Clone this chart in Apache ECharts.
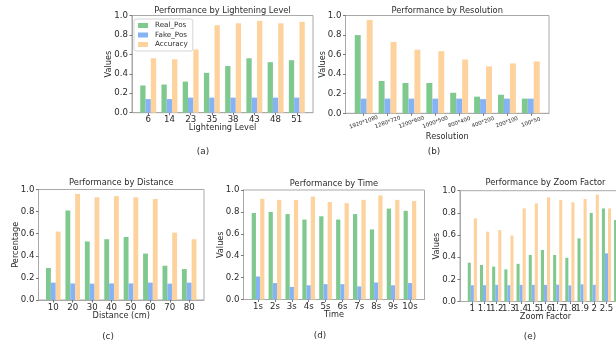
<!DOCTYPE html>
<html>
<head>
<meta charset="utf-8">
<script src="https://cdn.jsdelivr.net/npm/echarts@6/dist/echarts.min.js"></script>
<style>
  html, body { margin: 0; padding: 0; background: #fff; }
  #chart { width: 616px; height: 347px; }
</style>
</head>
<body>
<div id="chart"></div>
<script>
// ---- data ----
const seriesNames = ['Real_Pos', 'Fake_Pos', 'Accuracy'];
const yTickStep = 0.2;

const lightLevels = ['6', '14', '23', '35', '38', '43', '48', '51'];
const lightReal = [0.28, 0.29, 0.32, 0.41, 0.48, 0.56, 0.52, 0.54];
const lightFake = [0.14, 0.14, 0.155, 0.155, 0.155, 0.155, 0.155, 0.155];
const lightAcc = [0.56, 0.55, 0.65, 0.90, 0.92, 0.945, 0.92, 0.935];

const resLabels = ['1920*1080', '1280*720', '1200*600', '1000*500', '800*400', '400*200', '200*100', '100*50'];
const resReal = [0.80, 0.33, 0.31, 0.31, 0.21, 0.17, 0.19, 0.15];
const resFake = [0.15, 0.15, 0.15, 0.15, 0.15, 0.145, 0.15, 0.15];
const resAcc = [0.955, 0.73, 0.65, 0.635, 0.55, 0.48, 0.51, 0.53];

const distLabels = ['10', '20', '30', '40', '50', '60', '70', '80'];
const distReal = [0.29, 0.81, 0.53, 0.55, 0.57, 0.42, 0.31, 0.28];
const distFake = [0.157, 0.15, 0.148, 0.15, 0.15, 0.157, 0.148, 0.157];
const distAcc = [0.62, 0.96, 0.93, 0.94, 0.93, 0.915, 0.61, 0.55];

const timeLabels = ['1s', '2s', '3s', '4s', '5s', '6s', '7s', '8s', '9s', '10s'];
const timeReal = [0.79, 0.80, 0.78, 0.73, 0.76, 0.73, 0.78, 0.64, 0.83, 0.81];
const timeFake = [0.21, 0.15, 0.115, 0.13, 0.14, 0.14, 0.12, 0.155, 0.13, 0.15];
const timeAcc = [0.92, 0.91, 0.91, 0.94, 0.89, 0.88, 0.91, 0.95, 0.91, 0.90];

const zoomLabels = ['1', '1.1', '1.2', '1.3', '1.4', '1.5', '1.6', '1.7', '1.8', '1.9', '2', '2.5', '3'];
const zoomReal = [0.35, 0.33, 0.315, 0.29, 0.34, 0.42, 0.465, 0.42, 0.395, 0.57, 0.80, 0.84, 0.735];
const zoomFake = [0.147, 0.147, 0.15, 0.147, 0.15, 0.15, 0.15, 0.152, 0.145, 0.155, 0.15, 0.435, 0.545];
const zoomAcc = [0.75, 0.63, 0.645, 0.595, 0.84, 0.885, 0.94, 0.915, 0.895, 0.925, 0.965, 0.84, 0.90];

// ---- layout of the five subplots (pixel boxes of each axes frame) ----
const panels = [
  { cats: lightLevels, vals: [lightReal, lightFake, lightAcc], title: 'Performance by Lightening Level',
    xName: 'Lightening Level', yName: 'Values', tag: '(a)',
    x0: 132, x1: 313, y0: 15.5, y1: 112.7, titleY: 12.3, tagX: 203, tagY: 152.3, xNameGap: 11.5, rotate: 0 },
  { cats: resLabels, vals: [resReal, resFake, resAcc], title: 'Performance by Resolution',
    xName: 'Resolution', yName: 'Values', tag: '(b)',
    x0: 345.5, x1: 549, y0: 15.5, y1: 113.3, titleY: 12.3, tagX: 434, tagY: 152.3, xNameGap: 20, rotate: 20 },
  { cats: distLabels, vals: [distReal, distFake, distAcc], title: 'Performance by Distance',
    xName: 'Distance (cm)', yName: 'Percentage', tag: '(c)',
    x0: 38.5, x1: 204, y0: 189.5, y1: 300, titleY: 183.5, tagX: 108, tagY: 338, xNameGap: 12, rotate: 0 },
  { cats: timeLabels, vals: [timeReal, timeFake, timeAcc], title: 'Performance by Time',
    xName: 'Time', yName: 'Values', tag: '(d)',
    x0: 243.5, x1: 424.5, y0: 190, y1: 299.5, titleY: 184.5, tagX: 320, tagY: 337, xNameGap: 11.5, rotate: 0 },
  { cats: zoomLabels, vals: [zoomReal, zoomFake, zoomAcc], title: 'Performance by Zoom Factor',
    xName: 'Zoom Factor', yName: 'Values', tag: '(e)',
    x0: 460, x1: 631, y0: 190.7, y1: 301.5, titleY: 183.5, tagX: 530, tagY: 338, xNameGap: 11.5, rotate: 0 }
];

const colors = ['#7fc98e', '#86b3f6', '#fdd29d'];
const FONT = 'DejaVu Sans';
const TEXT = '#2b2b2b';
const FRAME = '#a9a9a9';

const option = {
  animation: false,
  backgroundColor: '#ffffff',
  textStyle: { fontFamily: FONT },
  grid: [], xAxis: [], yAxis: [], series: [], title: [],
  legend: {
    data: seriesNames,
    orient: 'vertical',
    left: 134, top: 19,
    icon: 'rect',
    itemWidth: 10, itemHeight: 5, itemGap: 2.5,
    padding: [3, 5, 3, 4],
    backgroundColor: '#ffffff',
    borderColor: '#d6d6d6', borderWidth: 1, borderRadius: 2,
    selectedMode: false,
    textStyle: { fontFamily: FONT, fontSize: 7.2, color: TEXT, padding: [0, 0, 0, 2] },
    z: 10
  }
};

panels.forEach((p, k) => {
  const n = p.cats.length;
  // half of a three-bar group plus a 5% margin on each side of the data span
  const pad = 0.375 + 0.05 * (n - 0.25);
  const width = p.x1 - p.x0;
  const unit = width / (n - 1 + 2 * pad);
  const idx = p.cats.map((_, i) => i);

  option.grid.push({
    left: p.x0, top: p.y0, width: width, height: p.y1 - p.y0,
    show: true, borderColor: FRAME, borderWidth: 1, backgroundColor: 'transparent',
    containLabel: false, outerBoundsMode: 'none'
  });

  option.xAxis.push({
    type: 'value', gridIndex: k, min: -pad, max: n - 1 + pad,
    name: p.xName, nameLocation: 'middle', nameGap: p.xNameGap, nameMoveOverlap: false,
    nameTextStyle: { fontFamily: FONT, fontSize: 8.2, color: TEXT },
    axisLine: { show: true, onZero: false, lineStyle: { color: FRAME, width: 1 } },
    splitLine: { show: false },
    axisTick: { show: true, customValues: idx, length: 2.5, lineStyle: { color: '#555', width: 0.8 } },
    axisLabel: p.rotate ? {
      customValues: idx, formatter: v => p.cats[v], rotate: p.rotate, align: 'center', verticalAlign: 'middle',
      margin: 9, fontFamily: FONT, fontSize: 5.4, color: TEXT, hideOverlap: false
    } : {
      customValues: idx, formatter: v => p.cats[v], margin: 3,
      fontFamily: FONT, fontSize: 8.6, color: TEXT, hideOverlap: false
    }
  });

  option.yAxis.push({
    type: 'value', gridIndex: k, min: 0, max: 1, interval: yTickStep,
    name: p.yName, nameLocation: 'middle', nameGap: 19, nameMoveOverlap: false,
    nameTextStyle: { fontFamily: FONT, fontSize: 8.2, color: TEXT },
    axisLine: { show: true, onZero: false, lineStyle: { color: FRAME, width: 1 } },
    splitLine: { show: false },
    axisTick: { show: true, length: 2.5, lineStyle: { color: '#555', width: 0.8 } },
    axisLabel: { formatter: v => Number(v).toFixed(1), margin: 4,
      fontFamily: FONT, fontSize: 8.6, color: TEXT }
  });

  p.vals.forEach((vals, s) => {
    option.series.push({
      type: 'bar', name: seriesNames[s], xAxisIndex: k, yAxisIndex: k,
      data: vals.map((v, i) => [i, v]),
      barWidth: unit * 0.25, barGap: '0%',
      itemStyle: { color: colors[s] },
      emphasis: { disabled: true }
    });
  });

  option.title.push({
    text: p.title, left: (p.x0 + p.x1) / 2, top: p.titleY - 5, textAlign: 'center', padding: 0,
    textStyle: { fontFamily: FONT, fontSize: 8.3, fontWeight: 'normal', color: TEXT }
  });
  option.title.push({
    text: p.tag, left: p.tagX, top: p.tagY - 5.5, textAlign: 'center', padding: 0,
    textStyle: { fontFamily: FONT, fontSize: 8.8, fontWeight: 'normal', color: TEXT }
  });
});

const chart = echarts.init(document.getElementById('chart'), null, { renderer: 'canvas' });
chart.setOption(option);
</script>
</body>
</html>
